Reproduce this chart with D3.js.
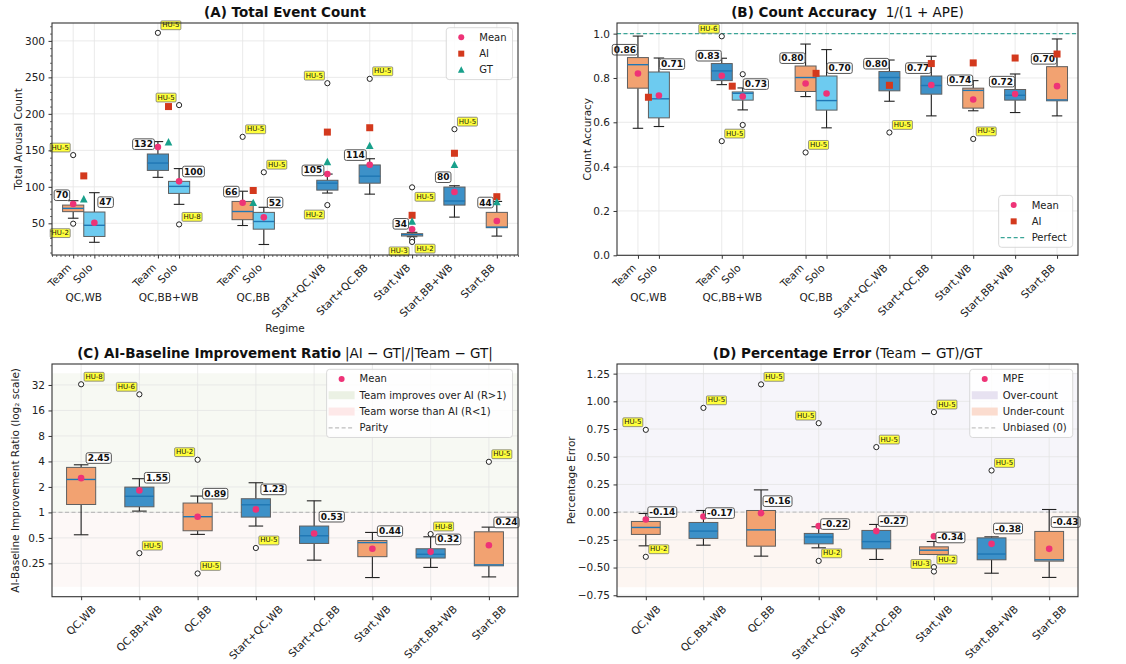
<!DOCTYPE html>
<html lang="en">
<head>
<meta charset="UTF-8">
<title>Arousal count boxplots</title>
<script src="https://d3js.org/d3.v7.min.js"></script>
<style>
  body { margin: 0; background: #fff; }
  text { font-family: "DejaVu Sans", sans-serif; }
</style>
</head>
<body>
<svg id="fig" width="1126" height="664"></svg>
<script>
// ---------- data ----------
const regimes = ["QC,WB", "QC,BB+WB", "QC,BB", "Start+QC,WB", "Start+QC,BB", "Start,WB", "Start,BB+WB", "Start,BB"];
const pairedGroups = ["QC,WB", "QC,BB+WB", "QC,BB"];
const pairedGroupPos = [0.25, 2.25, 4.25];
const boxTicksAB = ["Team", "Solo", "Team", "Solo", "Team", "Solo", "Start+QC,WB", "Start+QC,BB", "Start,WB", "Start,BB+WB", "Start,BB"];
const boxPosAB = [0, 0.5, 2, 2.5, 4, 4.5, 6, 7, 8, 9, 10];
const markerPosAB = [0.25, 2.25, 4.25, 6, 7, 8, 9, 10];
const regimePosCD = [0, 1, 2, 3, 4, 5, 6, 7];
const boxKindAB = ["team1", "solo", "team2", "solo", "team1", "solo", "team2", "team2", "team1", "team2", "team1"];
const boxKindCD = ["team1", "team2", "team1", "team2", "team2", "team1", "team2", "team1"];
const labelSideAB = ["l", "r", "l", "r", "l", "r", "l", "l", "l", "l", "l"];
const labelSideCD = ["r", "r", "r", "r", "r", "r", "r", "r"];

// (A) total arousal count  [whisker lo, Q1, median, Q3, whisker hi]
const countStats = [
  [57, 66, 70.5, 75, 81], [24, 32, 47.3, 65.5, 92],
  [113, 122.5, 132.6, 145, 162], [76, 91, 100.6, 107.5, 125],
  [47, 55, 66.2, 80, 94], [21, 42, 52.5, 65, 72],
  [91.5, 95.5, 105, 109, 117.5], [90, 105, 114.6, 130, 138.5],
  [31.7, 32.6, 34.4, 35.8, 37.7], [58.5, 75, 80.6, 99.7, 101.5],
  [32.5, 44, 44.8, 65, 80]
];
const countMeans = [76.4, 50.8, 154.5, 107.5, 78.2, 58.2, 117.5, 130.3, 41.8, 92.9, 53.1];
const countAI = [115, 210, 95, 175, 181, 61, 146, 86.5];
const countGT = [83, 161, 78, 134, 156, 52.5, 130, 79];
const countOutliers = [ // [box, value, participant, side]
  [0, 143.5, "HU-5", "ul"], [0, 49.5, "HU-2", "dl"], [2, 311, "HU-5", "ur"],
  [3, 212, "HU-5", "ul"], [3, 48.5, "HU-8", "ur"], [4, 168.5, "HU-5", "ur"],
  [5, 120, "HU-5", "ur"], [6, 242, "HU-5", "ul"], [6, 75, "HU-2", "dl"],
  [7, 248, "HU-5", "ur"], [8, 99.3, "HU-5", "dr"], [8, 28.3, "HU-2", "dr"],
  [8, 24.5, "HU-3", "dl"], [9, 179, "HU-5", "ur"]
];

// (B) count accuracy 1/(1+APE)
const accStats = [
  [0.573, 0.754, 0.860, 0.892, 0.989], [0.581, 0.620, 0.706, 0.827, 0.890],
  [0.770, 0.788, 0.832, 0.865, 0.889], [0.656, 0.700, 0.731, 0.737, 0.755],
  [0.716, 0.739, 0.802, 0.854, 0.953], [0.575, 0.655, 0.698, 0.809, 0.928],
  [0.695, 0.742, 0.802, 0.829, 0.881], [0.629, 0.727, 0.766, 0.809, 0.898],
  [0.652, 0.664, 0.744, 0.754, 0.788], [0.644, 0.700, 0.722, 0.748, 0.818],
  [0.629, 0.697, 0.701, 0.851, 0.976]
];
const accMeans = [0.820, 0.721, 0.810, 0.716, 0.775, 0.730, 0.767, 0.768, 0.703, 0.728, 0.763];
const accAI = [0.713, 0.763, 0.821, 0.767, 0.865, 0.868, 0.890, 0.908];
const accOutliers = [
  [2, 0.988, "HU-6", "ul"], [2, 0.515, "HU-5", "ur"], [3, 0.817, null, null],
  [3, 0.588, null, null], [4, 0.464, "HU-5", "ur"], [6, 0.554, "HU-5", "ur"],
  [8, 0.525, "HU-5", "ur"]
];

// (C) AI-baseline improvement ratio
const ratioStats = [
  [0.544, 1.24, 2.45, 3.40, 3.65], [1.036, 1.165, 1.55, 1.99, 2.5],
  [0.55, 0.607, 0.89, 1.29, 1.56], [0.69, 0.88, 1.23, 1.45, 2.24],
  [0.273, 0.43, 0.53, 0.69, 1.37], [0.17, 0.30, 0.44, 0.466, 0.58],
  [0.224, 0.289, 0.32, 0.372, 0.515], [0.173, 0.234, 0.24, 0.59, 0.67]
];
const ratioMeans = [2.54, 1.82, 0.887, 1.085, 0.564, 0.372, 0.342, 0.41];
const ratioOutliers = [
  [0, 32.6, "HU-8", "ur"], [1, 24.8, "HU-6", "ul"], [1, 0.33, "HU-5", "ur"],
  [2, 4.19, "HU-2", "ul"], [2, 0.19, "HU-5", "ur"], [3, 0.38, "HU-5", "ur"],
  [6, 0.555, "HU-8", "ur"], [7, 3.96, "HU-5", "ur"]
];

// (D) percentage error (Team - GT)/GT
const pctStats = [
  [-0.304, -0.201, -0.138, -0.084, -0.012], [-0.298, -0.237, -0.171, -0.093, 0.015],
  [-0.397, -0.307, -0.16, 0.015, 0.201], [-0.322, -0.286, -0.224, -0.192, -0.132],
  [-0.427, -0.331, -0.266, -0.165, -0.111], [-0.382, -0.382, -0.343, -0.313, -0.265],
  [-0.551, -0.43, -0.378, -0.232, -0.223], [-0.589, -0.442, -0.43, -0.174, 0.024]
];
const pctMeans = [-0.066, -0.039, -0.009, -0.126, -0.171, -0.217, -0.286, -0.331];
const pctOutliers = [
  [0, 0.743, "HU-5", "ul"], [0, -0.403, "HU-2", "ur"], [1, 0.941, "HU-5", "ur"],
  [2, 1.153, "HU-5", "ur"], [3, 0.803, "HU-5", "ul"], [3, -0.44, "HU-2", "ur"],
  [4, 0.587, "HU-5", "ur"], [5, 0.903, "HU-5", "ur"], [5, -0.496, "HU-2", "ur"],
  [5, -0.536, "HU-3", "ul"], [6, 0.376, "HU-5", "ur"]
];

// ---------- style ----------
const fills = { team1: "#f2a271", team2: "#3d91c8", solo: "#6dcbf0" };
const MEAN = "#ee3377", AI = "#d3391d", GT = "#18a08b";

const svg = d3.select("#fig");

function tag(g, x, y, txt, anchor, o) {
  const gg = g.append("g");
  const t = gg.append("text").attr("x", x).attr("y", y).attr("dy", "0.35em")
    .attr("text-anchor", anchor).attr("font-size", o.fs).attr("font-weight", o.fw)
    .attr("fill", "#111").text(txt);
  const bb = t.node().getBBox();
  gg.insert("rect", "text").attr("x", bb.x - o.px).attr("y", bb.y - o.py)
    .attr("width", bb.width + 2 * o.px).attr("height", bb.height + 2 * o.py)
    .attr("rx", o.rx).attr("fill", o.fill).attr("stroke", o.stroke).attr("stroke-width", o.sw);
}

function marker(g, type, cx, cy, size) {
  if (type === "dot") g.append("circle").attr("cx", cx).attr("cy", cy).attr("r", size / 2).attr("fill", MEAN);
  if (type === "square") g.append("rect").attr("x", cx - size / 2).attr("y", cy - size / 2)
    .attr("width", size).attr("height", size).attr("fill", AI);
  if (type === "tri") g.append("path").attr("fill", GT)
    .attr("d", `M${cx},${cy - size * 0.6}L${cx + size * 0.55},${cy + size * 0.45}L${cx - size * 0.55},${cy + size * 0.45}Z`);
}

function drawLegend(g, items, pos) {
  const lg = g.append("g");
  const rowH = 16.3;
  const n = items.length, h = n * rowH + 3;
  const tg = lg.append("g");
  const widths = items.map((it, i) => {
    const t = tg.append("text").attr("font-size", 10).attr("fill", "#222").attr("dy", "0.35em")
      .attr("y", 1.5 + rowH * (i + 0.5)).text(it.label);
    return t.node().getComputedTextLength();
  });
  const w = 33 + d3.max(widths) + 6;
  const left = pos.right - w;
  const top = pos.top !== undefined ? pos.top : pos.bottom - h;
  lg.attr("transform", `translate(${left},${top})`);
  tg.selectAll("text").attr("x", 33);
  lg.insert("rect", "g").attr("width", w).attr("height", h).attr("rx", 3)
    .attr("fill", "#fff").attr("fill-opacity", 0.85).attr("stroke", "#d0d0d0").attr("stroke-width", 0.8);
  items.forEach((it, i) => {
    const cy = 1.5 + rowH * (i + 0.5);
    if (it.type === "patch") lg.append("rect").attr("x", 2).attr("y", cy - 4).attr("width", 26).attr("height", 8).attr("fill", it.color);
    else if (it.type === "dash") lg.append("line").attr("x1", 2).attr("x2", 28).attr("y1", cy).attr("y2", cy)
      .attr("stroke", it.color).attr("stroke-width", 1.4).attr("stroke-dasharray", "4,2.5");
    else marker(lg, it.type, 15, cy, 6);
  });
}

function drawPanel(c) {
  const g = svg.append("g");
  const x = d3.scaleLinear().domain(c.xdom).range([c.l, c.r]);
  const y = (c.log ? d3.scaleLog().base(2) : d3.scaleLinear()).domain(c.ydom).range([c.b, c.t]);
  const bw = (x(1) - x(0)) * 0.5;

  (c.bands || []).forEach(b => {
    g.append("rect").attr("x", c.l).attr("y", y(b.hi)).attr("width", c.r - c.l)
      .attr("height", y(b.lo) - y(b.hi)).attr("fill", b.fill);
  });

  // grid
  const grid = g.append("g").attr("stroke", "#e4e4e4").attr("stroke-width", 0.8);
  grid.selectAll(".gy").data(c.yticks).join("line").attr("class", "gy")
    .attr("x1", c.l).attr("x2", c.r).attr("y1", d => y(d)).attr("y2", d => y(d));
  grid.selectAll(".gx").data(c.xticks).join("line").attr("class", "gx")
    .attr("x1", d => x(d)).attr("x2", d => x(d)).attr("y1", c.t).attr("y2", c.b);

  if (c.refLine) g.append("line").attr("x1", c.l).attr("x2", c.r)
    .attr("y1", y(c.refLine.v)).attr("y2", y(c.refLine.v))
    .attr("stroke", c.refLine.color).attr("stroke-width", 1.1).attr("stroke-dasharray", "4,2.5");

  // boxes
  c.stats.forEach((s, i) => {
    const cx = x(c.pos[i]);
    const [lo, q1, md, q3, hi] = s;
    const bg = g.append("g").attr("stroke", "#222").attr("stroke-width", 1.1);
    bg.append("line").attr("x1", cx).attr("x2", cx).attr("y1", y(hi)).attr("y2", y(q3));
    bg.append("line").attr("x1", cx).attr("x2", cx).attr("y1", y(q1)).attr("y2", y(lo));
    [lo, hi].forEach(v => bg.append("line").attr("x1", cx - bw / 4).attr("x2", cx + bw / 4)
      .attr("y1", y(v)).attr("y2", y(v)));
    g.append("rect").attr("x", cx - bw / 2).attr("y", y(q3)).attr("width", bw)
      .attr("height", Math.max(1, y(q1) - y(q3))).attr("fill", fills[c.kinds[i]])
      .attr("stroke", "#5f5f5f").attr("stroke-width", 1);
    g.append("line").attr("x1", cx - bw / 2).attr("x2", cx + bw / 2).attr("y1", y(md)).attr("y2", y(md))
      .attr("stroke", "#1f77b4").attr("stroke-width", 1.4);
  });

  // outliers
  c.outliers.forEach(([bi, v]) => {
    g.append("circle").attr("cx", x(c.pos[bi])).attr("cy", y(v)).attr("r", 2.6)
      .attr("fill", "#fff").attr("stroke", "#222").attr("stroke-width", 1);
  });

  // means
  c.means.forEach((v, i) => marker(g, "dot", x(c.pos[i]), y(v), 6.6));

  // median value labels
  c.stats.forEach((s, i) => {
    const cx = x(c.pos[i]);
    const left = c.sides[i] === "l";
    tag(g, left ? cx - c.ldx - 1.5 : cx + c.ldx + 1.5, y(s[3]) + c.ldy, c.fmt(s[2]), left ? "end" : "start",
      { fs: 9, fw: "bold", px: 1.5, py: 0.3, rx: 2, fill: "#fff", stroke: "#555", sw: 1 });
  });

  // participant tags on outliers
  c.outliers.forEach(([bi, v, hu, side]) => {
    if (!hu) return;
    const ox = x(c.pos[bi]), oy = y(v);
    const right = side[1] === "r";
    const dy = side[0] === "u" ? -8 : 9;
    tag(g, right ? ox + 4.3 : ox - 4.3, oy + dy, hu, right ? "start" : "end",
      { fs: 7, fw: "normal", px: 1.3, py: 0.4, rx: 1, fill: "#ffff3c", stroke: "#777", sw: 0.8 });
  });

  // reference markers (AI / GT)
  (c.refMarkers || []).forEach(m => m.vals.forEach((v, i) => marker(g, m.type, x(m.pos[i]), y(v), 7)));

  // frame
  g.append("rect").attr("x", c.l).attr("y", c.t).attr("width", c.r - c.l).attr("height", c.b - c.t)
    .attr("fill", "none").attr("stroke", "#333").attr("stroke-width", 1.1);

  // y axis
  const ya = g.append("g").attr("transform", `translate(${c.l},0)`)
    .call(d3.axisLeft(y).tickValues(c.yticks).tickFormat(c.yfmt).tickSize(3.5).tickPadding(3.5));
  ya.attr("font-size", 10.5).attr("font-family", null);
  ya.select(".domain").remove();
  ya.selectAll("line").attr("stroke", "#333");
  ya.selectAll("text").attr("fill", "#222");
  const tickLeft = ya.node().getBBox().x + c.l;

  g.append("text").attr("transform", `translate(${tickLeft - 2.5},${(c.t + c.b) / 2}) rotate(-90)`)
    .attr("text-anchor", "middle").attr("font-size", 10.5).attr("fill", "#222").text(c.ylabel);

  // x axis ticks
  const xa = g.append("g").attr("transform", `translate(0,${c.b})`)
    .call(d3.axisBottom(x).tickValues(c.xticks).tickFormat("").tickSize(3.5));
  xa.select(".domain").remove();
  xa.selectAll("line").attr("stroke", "#333");

  if (c.minor) {
    const my = g.append("g").attr("transform", `translate(${c.l},0)`)
      .call(d3.axisLeft(y).tickValues(c.minor.y).tickFormat("").tickSize(2));
    my.select(".domain").remove();
    my.selectAll("line").attr("stroke", "#333").attr("stroke-width", 0.7);
    const mx = g.append("g").attr("transform", `translate(0,${c.b})`)
      .call(d3.axisBottom(x).tickValues(c.minor.x).tickFormat("").tickSize(2));
    mx.select(".domain").remove();
    mx.selectAll("line").attr("stroke", "#333").attr("stroke-width", 0.7);
  }

  const fs = 10.5;
  c.xticks.forEach((p, i) => {
    const tx = x(p);
    const t = g.append("text").attr("font-size", fs).attr("fill", "#222").attr("dy", "0.35em").text(c.xtickText[i]);
    if (c.xmode === "right") {
      const e = 0.354 * fs;
      t.attr("text-anchor", "end").attr("transform", `translate(${tx - e},${c.b + 7 + e}) rotate(-45)`);
    } else {
      const L = t.node().getComputedTextLength();
      const cy = c.b + 7 + (L + fs) * 0.3536;
      t.attr("text-anchor", "middle").attr("transform", `translate(${tx},${cy}) rotate(-45)`);
    }
  });
  (c.groups || []).forEach((name, i) => {
    g.append("text").attr("x", x(c.groupPos[i])).attr("y", c.b + 45.5).attr("text-anchor", "middle")
      .attr("font-size", fs).attr("fill", "#222").text(name);
  });
  if (c.xlabel) g.append("text").attr("x", (c.l + c.r) / 2).attr("y", c.b + 76.5).attr("text-anchor", "middle")
    .attr("font-size", fs).attr("fill", "#222").text(c.xlabel);

  // title
  const tt = g.append("text").attr("x", (c.l + c.r) / 2).attr("y", c.t - 5.6).attr("text-anchor", "middle")
    .attr("font-size", 13.5).attr("fill", "#111");
  tt.append("tspan").attr("font-weight", "bold").text(c.title[0]);
  if (c.title[1]) tt.append("tspan").attr("dx", c.title[2] || 4).text(c.title[1]);

  drawLegend(g, c.legend, c.legendPos);
}

// ---------- panels ----------
const minorY = d3.range(10, 330, 10).filter(v => v % 50 !== 0);
const minorX = d3.range(-5, 106).map(v => v / 10).filter(v => !boxPosAB.some(p => Math.abs(p - v) < 1e-6));

drawPanel({
  l: 52, r: 518, t: 23, b: 255, xdom: [-0.5, 10.5], ydom: [6.6, 324.5],
  yticks: [50, 100, 150, 200, 250, 300], yfmt: d3.format("d"), ylabel: "Total Arousal Count",
  pos: boxPosAB, stats: countStats, means: countMeans, kinds: boxKindAB, sides: labelSideAB,
  fmt: v => String(Math.trunc(v)), ldx: 3.5, ldy: -10, outliers: countOutliers,
  refMarkers: [{ type: "square", pos: markerPosAB, vals: countAI }, { type: "tri", pos: markerPosAB, vals: countGT }],
  xticks: boxPosAB, xtickText: boxTicksAB, xmode: "right", groups: pairedGroups, groupPos: pairedGroupPos,
  xlabel: "Regime", minor: { y: minorY, x: minorX },
  title: ["(A) Total Event Count"],
  legend: [{ type: "dot", label: "Mean" }, { type: "square", label: "AI" }, { type: "tri", label: "GT" }],
  legendPos: { right: 512.5, top: 27.7 }
});

drawPanel({
  l: 617, r: 1078, t: 23, b: 255.3, xdom: [-0.5, 10.5], ydom: [0, 1.048],
  yticks: [0, 0.2, 0.4, 0.6, 0.8, 1.0], yfmt: d3.format(".1f"), ylabel: "Count Accuracy",
  pos: boxPosAB, stats: accStats, means: accMeans, kinds: boxKindAB, sides: labelSideAB,
  fmt: v => v.toFixed(2), ldx: 0.5, ldy: -8, outliers: accOutliers,
  refLine: { v: 1.0, color: "#3aa597" },
  refMarkers: [{ type: "square", pos: markerPosAB, vals: accAI }],
  xticks: boxPosAB, xtickText: boxTicksAB, xmode: "right", groups: pairedGroups, groupPos: pairedGroupPos,
  title: ["(B) Count Accuracy", "1/(1 + APE)", 9],
  legend: [{ type: "dot", label: "Mean" }, { type: "square", label: "AI" }, { type: "dash", label: "Perfect", color: "#3aa597" }],
  legendPos: { right: 1072.7, bottom: 247.3 }
});

drawPanel({
  l: 52, r: 518, t: 364, b: 596.7, xdom: [-0.5, 7.5], ydom: [0.101, 56.6], log: true,
  yticks: [0.25, 0.5, 1, 2, 4, 8, 16, 32], yfmt: d => String(d),
  ylabel: "AI-Baseline Improvement Ratio (log\u2082 scale)",
  pos: regimePosCD, stats: ratioStats, means: ratioMeans, kinds: boxKindCD, sides: labelSideCD,
  fmt: v => v.toFixed(2), ldx: 5, ldy: -9.5, outliers: ratioOutliers,
  bands: [{ lo: 1, hi: 44, fill: "#f7f9f3" }, { lo: 0.132, hi: 1, fill: "#fdf8f7" }],
  refLine: { v: 1, color: "#bdbdbd" },
  xticks: regimePosCD, xtickText: regimes, xmode: "center",
  title: ["(C) AI-Baseline Improvement Ratio", "|AI \u2212 GT|/|Team \u2212 GT|", 4],
  legend: [{ type: "dot", label: "Mean" }, { type: "patch", label: "Team improves over AI (R>1)", color: "#ebf1e4" },
    { type: "patch", label: "Team worse than AI (R<1)", color: "#fde8e8" }, { type: "dash", label: "Parity", color: "#bdbdbd" }],
  legendPos: { right: 512.5, top: 369.3 }
});

drawPanel({
  l: 617, r: 1078, t: 364, b: 596.7, xdom: [-0.5, 7.5], ydom: [-0.763, 1.337],
  yticks: [-0.75, -0.5, -0.25, 0, 0.25, 0.5, 0.75, 1.0, 1.25], yfmt: d3.format(".2f"), ylabel: "Percentage Error",
  pos: regimePosCD, stats: pctStats, means: pctMeans, kinds: boxKindCD, sides: labelSideCD,
  fmt: v => v.toFixed(2), ldx: 2, ldy: -9.5, outliers: pctOutliers,
  bands: [{ lo: 0, hi: 1.258, fill: "#f6f5fa" }, { lo: -0.678, hi: 0, fill: "#fdf6f2" }],
  refLine: { v: 0, color: "#c4c4c4" },
  xticks: regimePosCD, xtickText: regimes, xmode: "center",
  title: ["(D) Percentage Error", "(Team \u2212 GT)/GT", 4],
  legend: [{ type: "dot", label: "MPE" }, { type: "patch", label: "Over-count", color: "#e7e2f1" },
    { type: "patch", label: "Under-count", color: "#fbdccf" }, { type: "dash", label: "Unbiased (0)", color: "#c4c4c4" }],
  legendPos: { right: 1072.7, top: 369.3 }
});
</script>
</body>
</html>
